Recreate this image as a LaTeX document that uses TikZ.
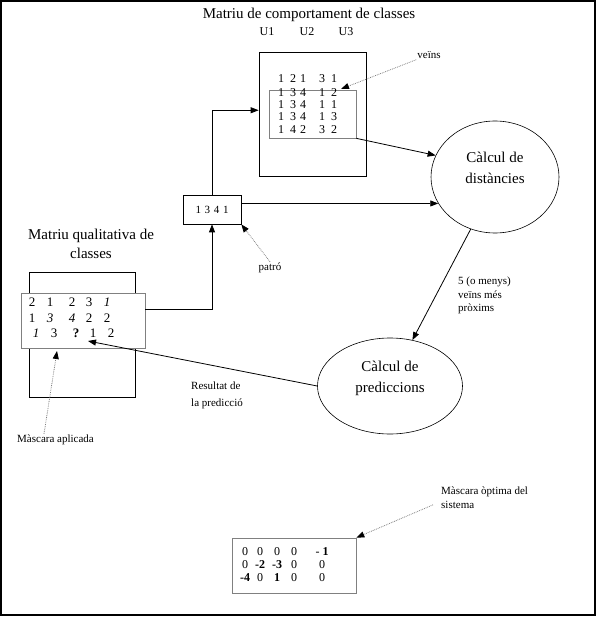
\documentclass[tikz,border=0pt]{standalone}
\usepackage{fontspec}
\setmainfont{Liberation Serif}
\usetikzlibrary{arrows.meta}
\usetikzlibrary{calc}
\usetikzlibrary{shapes.geometric}

\begin{document}
\begin{tikzpicture}[x=1pt, y=-1pt,
        mbox/.style 2 args={draw, line width=0.7pt, minimum width=#1, minimum height=#2, inner sep=0pt},
        gbox/.style 2 args={mbox={#1}{#2}, draw=gray, fill=white},
        proc/.style 2 args={draw, ellipse, line width=0.6pt, minimum width=#1, minimum height=#2, inner sep=0pt},
        big/.style={font=\fontsize{15}{19}\selectfont, align=center, inner sep=1pt},
        small/.style={font=\fontsize{11}{13.5}\selectfont, align=left, inner sep=1pt},
        num/.style={font=\fontsize{12}{12}\selectfont, inner sep=0pt},
        arr/.style={line width=0.8pt, -{Triangle[length=8pt, width=6pt]}},
        note/.style={draw=gray, densely dotted, line width=0.8pt, -{Triangle[black, length=8pt, width=6pt]}}]
        \useasboundingbox (0,0) rectangle (597,617);
        \draw[line width=1.5pt] (1,1) rectangle (595,615);

        \node[big] (title) at (309,15) {Matriu de comportament de classes};
        \node[num] (u1) at (267,32) {U1};
        \node[num] (u2) at (307,32) {U2};
        \node[num] (u3) at (346,32) {U3};
        \node[mbox={107}{124}] (behbox) at (312.5,114) {};
        \node[gbox={87}{48}, fill=none] (nbrbox) at (312.5,114) {};
        \foreach \yy/\row [count=\i] in {79/{1,2,1,3,1}, 93/{1,3,4,1,2}, 105/{1,3,4,1,1}, 117/{1,3,4,1,3}, 130/{1,4,2,3,2}}
          \foreach \v [count=\j] in \row {
            \pgfmathsetmacro\xx{{281,293,303,322,334}[\j-1]}
            \node[num] (b-\i-\j) at (\xx,\yy) {\v};
          }

        \node[big] (quallbl) at (91,244) {Matriu qualitativa de\\classes};
        \node[mbox={106}{125}] (qualbox) at (82,334.5) {};
        \node[gbox={124}{55}] (maskbox) at (83,320.5) {};
        \foreach \yy/\dx/\row [count=\i] in {302/0/{2,1,2,3,\textit{1}}, 318/0/{1,\textit{3},\textit{4},2,2}, 333/4/{\textit{1},3,\textbf{?},1,2}}
          \foreach \v [count=\j] in \row {
            \pgfmathsetmacro\xx{{32,50,72,89,107}[\j-1]+\dx}
            \node[num, font=\fontsize{13}{13}\selectfont] (q-\i-\j) at (\xx,\yy) {\v};
          }

        \node[mbox={58}{29}, font=\fontsize{11}{11}\selectfont] (code) at (212,209.5) {1\,\,3\,\,4\,\,1};

        \node[proc={128}{112}] (dist) at (495,177) {};
        \node[big, align=center, font=\fontsize{15}{21}\selectfont] (distlbl) at (495,167.5) {Càlcul de\\distàncies};
        \node[proc={145}{96}] (pred) at (390,386) {};
        \node[big, align=center, font=\fontsize{15}{21}\selectfont] (predlbl) at (390,378) {Càlcul de\\prediccions};

        \node[gbox={124}{55}] (optbox) at (294,565.5) {};
        \foreach \yy/\row [count=\i] in {552/{0,0,0,0,-\ \textbf{1}}, 565/{0,\textbf{-2},\textbf{-3},0,0}, 578/{\textbf{-4},0,\textbf{1},0,0}}
          \foreach \v [count=\j] in \row {
            \pgfmathsetmacro\xx{{245,260,277,294,322}[\j-1]}
            \node[num] (o-\i-\j) at (\xx,\yy) {\v};
          }

        \node[small] (veinslbl) at (429,55) {veïns};
        \node[small] (patrolbl) at (270,268) {patró};
        \node[small, anchor=west] (maplbl) at (16,440) {Màscara aplicada};
        \node[small, anchor=north west] (reslbl) at (190,381) {Resultat de\\[3pt]la predicció};
        \node[small, anchor=north west] (nearlbl) at (457,276) {5 (o menys)\\veïns més\\pròxims};
        \node[small, anchor=north west] (optlbl) at (440,486) {Màscara òptima del\\sistema};
        \coordinate (veinstip) at (341,89);
        \coordinate (maptip) at (57,351);
        \coordinate (resin) at (88,341);

        \draw[arr] ($(maskbox.north east)!0.3!(maskbox.south east)$) -| (code.south);
        \draw[arr] (code.north) |- ($(behbox.north west)!0.47!(behbox.south west)$);
        \draw[arr] (dist.205 -| code.east) -- (dist.205);
        \draw[arr] (nbrbox.south east) -- (dist.160);
        \draw[arr] (dist.245) -- (pred.64);
        \draw[arr] (pred.west) -- (resin);

        \draw[note] (veinslbl.south west) -- (veinstip);
        \draw[note] (patrolbl.north) -- (code.south east);
        \draw[note] ($(maplbl.north west)+(28,0)$) -- (maptip);
        \draw[note] ($(optlbl.west)+(-7,7)$) -- (optbox.north east);
        \end{tikzpicture}
\end{document}
